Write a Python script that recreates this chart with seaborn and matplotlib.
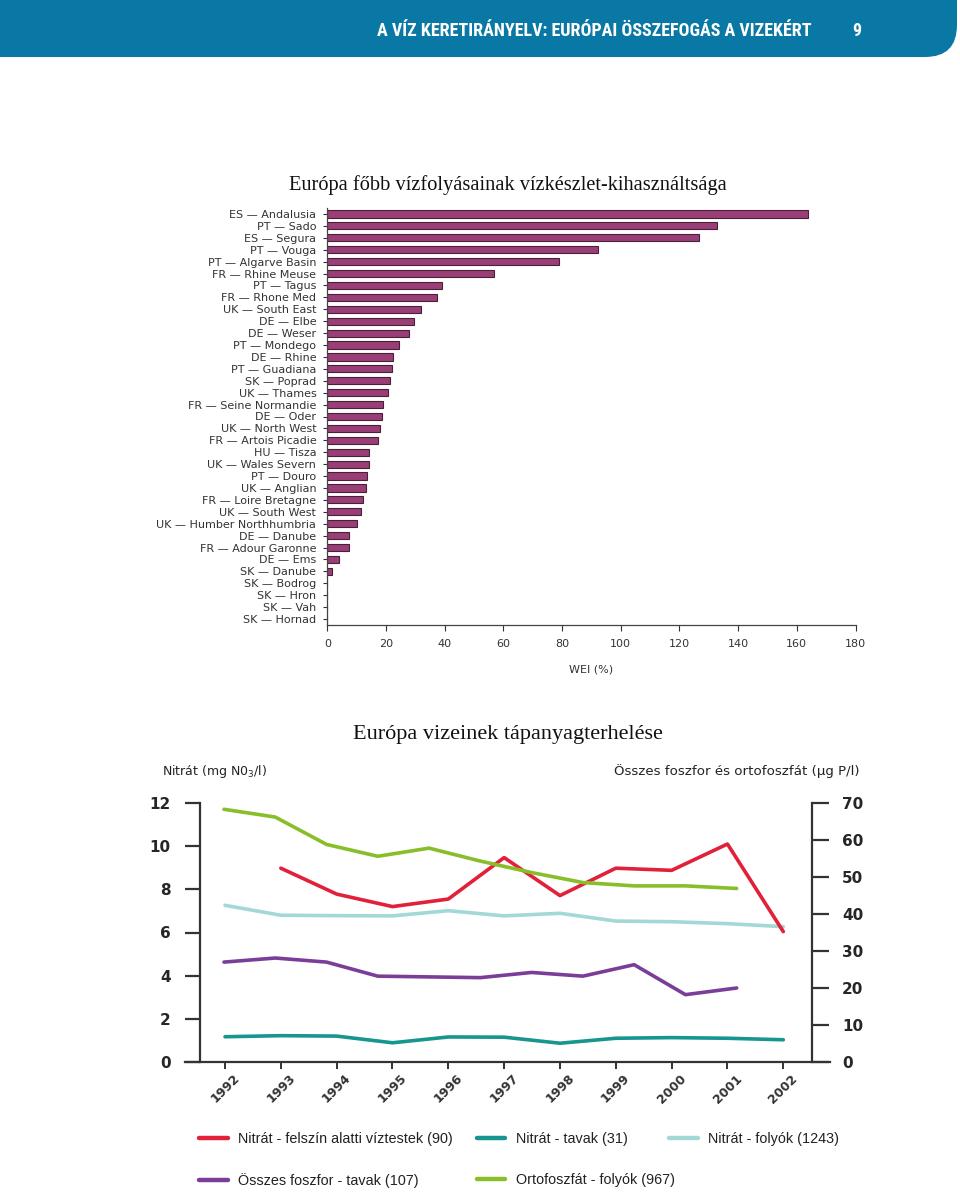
import matplotlib
matplotlib.use("Agg")
import matplotlib.pyplot as plt
import numpy as np
import pandas as pd
import seaborn as sns
from matplotlib.lines import Line2D
from matplotlib.patches import FancyBboxPatch

# -----------------------------------------------------------------------------
# Adatok
# -----------------------------------------------------------------------------
basins = [
    "ES — Andalusia", "PT — Sado", "ES — Segura", "PT — Vouga",
    "PT — Algarve Basin", "FR — Rhine Meuse", "PT — Tagus", "FR — Rhone Med",
    "UK — South East", "DE — Elbe", "DE — Weser", "PT — Mondego",
    "DE — Rhine", "PT — Guadiana", "SK — Poprad", "UK — Thames",
    "FR — Seine Normandie", "DE — Oder", "UK — North West", "FR — Artois Picadie",
    "HU — Tisza", "UK — Wales Severn", "PT — Douro", "UK — Anglian",
    "FR — Loire Bretagne", "UK — South West", "UK — Humber Northhumbria",
    "DE — Danube", "FR — Adour Garonne", "DE — Ems", "SK — Danube",
    "SK — Bodrog", "SK — Hron", "SK — Vah", "SK — Hornad",
]
wei = [
    163.9, 132.7, 126.8, 92.1, 79.0, 56.9, 38.9, 37.5, 31.8, 29.6, 27.9, 24.4,
    22.4, 22.0, 21.2, 20.5, 19.0, 18.5, 17.9, 17.3, 14.2, 14.3, 13.4, 13.0,
    12.2, 11.3, 10.2, 7.5, 7.5, 4.0, 1.5, 0.0, 0.0, 0.0, 0.0,
]
wei_ticks = list(range(0, 181, 20))

years = list(range(1992, 2003))
# Nitrát (mg NO3/l) - bal tengely
nitrat_felszin_alatti = [np.nan, 8.98, 7.78, 7.20, 7.55, 9.47, 7.71, 8.98, 8.88, 10.1, 6.04]
nitrat_tavak = [1.17, 1.22, 1.20, 0.89, 1.16, 1.15, 0.87, 1.10, 1.13, 1.10, 1.03]
nitrat_folyok = [7.26, 6.80, 6.78, 6.77, 7.01, 6.77, 6.89, 6.53, 6.50, 6.41, 6.27]
# Foszfor (ug P/l) - jobb tengely, a forrásábrán saját (sűrűbb) x-skálán
foszfor_tavak = [27.0, 28.1, 27.0, 23.2, 23.0, 22.8, 24.2, 23.2, 26.3, 18.2, 20.0]
ortofoszfat_folyok = [68.3, 66.2, 58.8, 55.6, 57.8, 54.3, 51.2, 48.5, 47.6, 47.6, 46.9]

nitrat_ticks = list(range(0, 13, 2))
foszfor_ticks = list(range(0, 71, 10))

RED, TEAL, CYAN = "#E2203A", "#17968F", "#A2D9D7"
PURPLE, GREEN = "#7A3E98", "#88BE2A"

# -----------------------------------------------------------------------------
# Rajz
# -----------------------------------------------------------------------------
sns.set_theme(style="white")
plt.rcParams["font.family"] = ["DejaVu Sans"]

W, H = 960, 1194
fig = plt.figure(figsize=(W / 100, H / 100), dpi=100)


def fx(px):
    return px / W


def fy(py):
    return 1 - py / H


# fejléc sáv
band = FancyBboxPatch((-1, (H - 57) / 100), 1 + 957 / 100, 2,
                      boxstyle="round,pad=0,rounding_size=0.32",
                      transform=fig.dpi_scale_trans, facecolor="#0A78A5",
                      edgecolor="none")
fig.add_artist(band)
head_font = ["Roboto Condensed", "DejaVu Sans"]
fig.text(fx(812), fy(31), "A VÍZ KERETIRÁNYELV: EURÓPAI ÖSSZEFOGÁS A VIZEKÉRT",
         ha="right", va="center", color="white", fontsize=13,
         weight="bold", family=head_font, fontstretch="condensed")
fig.text(fx(861), fy(31), "9", ha="right", va="center", color="white",
         fontsize=13, weight="bold", family=head_font, fontstretch="condensed")

# ---- 1. oszlopdiagram
fig.text(fx(508), fy(185), "Európa főbb vízfolyásainak vízkészlet-kihasználtsága",
         ha="center", va="center", fontsize=14.7, family="Liberation Serif",
         color="#111111")

df_wei = pd.DataFrame({"basin": basins, "wei": wei})
ax_bar = fig.add_axes([fx(327.4), fy(625), (855.5 - 327.4) / W, (625 - 208) / H])
sns.barplot(data=df_wei, x="wei", y="basin", orient="h", color="#9A3E77",
            saturation=1, edgecolor="#4A2038", linewidth=0.8, width=0.6,
            errorbar=None, ax=ax_bar)
ax_bar.set_xlim(0, 180)
ax_bar.set_xticks(wei_ticks)
ax_bar.set_ylabel("")
ax_bar.set_xlabel("WEI (%)", fontsize=8, color="#333333", labelpad=11)
sns.despine(ax=ax_bar)
for side in ("left", "bottom"):
    ax_bar.spines[side].set_color("#444444")
    ax_bar.spines[side].set_linewidth(0.9)
ax_bar.tick_params(axis="y", left=True, length=3, width=0.8, pad=5,
                   labelsize=8, colors="#333333")
ax_bar.tick_params(axis="x", bottom=True, length=4, width=0.8, pad=6,
                   labelsize=8, colors="#333333")

# ---- 2. vonaldiagram
fig.text(fx(508), fy(735), "Európa vizeinek tápanyagterhelése",
         ha="center", va="center", fontsize=16, family="Liberation Serif",
         color="#111111")

rect = [fx(185), fy(1062), 645 / W, 259 / H]
ax_n = fig.add_axes(rect)
ax_p = fig.add_axes(rect)
ax_p.patch.set_visible(False)

sns.lineplot(x=years, y=nitrat_folyok, color=CYAN, linewidth=2.6, ax=ax_n)
sns.lineplot(x=years, y=nitrat_tavak, color=TEAL, linewidth=2.6, ax=ax_n)
sns.lineplot(x=years, y=nitrat_felszin_alatti, color=RED, linewidth=2.6, ax=ax_n)
sns.lineplot(x=years, y=foszfor_tavak, color=PURPLE, linewidth=2.6, ax=ax_p)
sns.lineplot(x=years, y=ortofoszfat_folyok, color=GREEN, linewidth=2.6, ax=ax_p)

# év-tengely: 1992 -> 225 px, 55.83 px / év
ax_n.set_xlim(1992 - 40 / 55.83, 1992 + 605 / 55.83)
ax_n.set_ylim(0, 12)
ax_n.set_xticks(years)
ax_n.set_xticklabels([str(y) for y in years], rotation=45, ha="center",
                     fontsize=9, weight="bold", color="#333333")
ax_n.set_yticks(nitrat_ticks)
ax_n.set_yticklabels([str(t) for t in nitrat_ticks], fontsize=8.5,
                     color="#222222")
for side in ("top", "right"):
    ax_n.spines[side].set_visible(False)
ax_n.spines["left"].set_position(("axes", 15 / 645))
for side in ("left", "bottom"):
    ax_n.spines[side].set_color("#333333")
    ax_n.spines[side].set_linewidth(1.6)
ax_n.tick_params(axis="y", left=True, length=11, width=1.6, pad=10,
                 color="#333333")
ax_n.tick_params(axis="x", bottom=True, length=5, width=1.4, pad=2,
                 color="#333333")

# foszfor sorok: 1992 -> 224 px, 51.27 px / lépés
ax_p.set_xlim(1992 - 39 / 51.27, 1992 + 606 / 51.27)
ax_p.set_ylim(0, 70)
ax_p.set_xticks([])
ax_p.yaxis.tick_right()
ax_p.set_yticks(foszfor_ticks)
ax_p.set_yticklabels([str(t) for t in foszfor_ticks], fontsize=8.5,
                     color="#222222")
for side in ("top", "left", "bottom"):
    ax_p.spines[side].set_visible(False)
ax_p.spines["right"].set_position(("axes", (812 - 185) / 645))
ax_p.spines["right"].set_color("#333333")
ax_p.spines["right"].set_linewidth(1.6)
ax_p.tick_params(axis="y", right=True, length=12.5, width=1.6, pad=9,
                 color="#333333")
for lbl in ax_n.get_yticklabels() + ax_p.get_yticklabels():
    lbl.set_fontweight("bold")

fig.text(fx(162), fy(771), "Nitrát (mg N0$_3$/l)", ha="left", va="center",
         fontsize=9, color="#222222")
fig.text(fx(614), fy(771), "Összes foszfor és ortofoszfát (µg P/l)",
         ha="left", va="center", fontsize=9.6, color="#222222")

# jelmagyarázat
def handle(c):
    return Line2D([], [], color=c, linewidth=3.2)


leg_prop = {"family": "Liberation Sans", "size": 10.4}
fig.legend(
    handles=[handle(RED), handle(PURPLE), handle(TEAL), handle(GREEN)],
    labels=["Nitrát - felszín alatti víztestek (90)", "Összes foszfor - tavak (107)",
            "Nitrát - tavak (31)", "Ortofoszfát - folyók (967)"],
    ncol=2, loc="upper left", bbox_to_anchor=(fx(199), fy(1132)),
    frameon=False, handlelength=2.0, handletextpad=0.7,
    columnspacing=1.65, labelspacing=1.85, borderpad=0, borderaxespad=0,
    labelcolor="#222222", prop=leg_prop)
fig.legend(
    handles=[handle(CYAN)], labels=["Nitrát - folyók (1243)"],
    loc="upper left", bbox_to_anchor=(fx(669), fy(1132)), frameon=False,
    handlelength=2.0, handletextpad=0.7, borderpad=0, borderaxespad=0,
    labelcolor="#222222", prop=leg_prop)

fig.savefig("out.png", dpi=100)
